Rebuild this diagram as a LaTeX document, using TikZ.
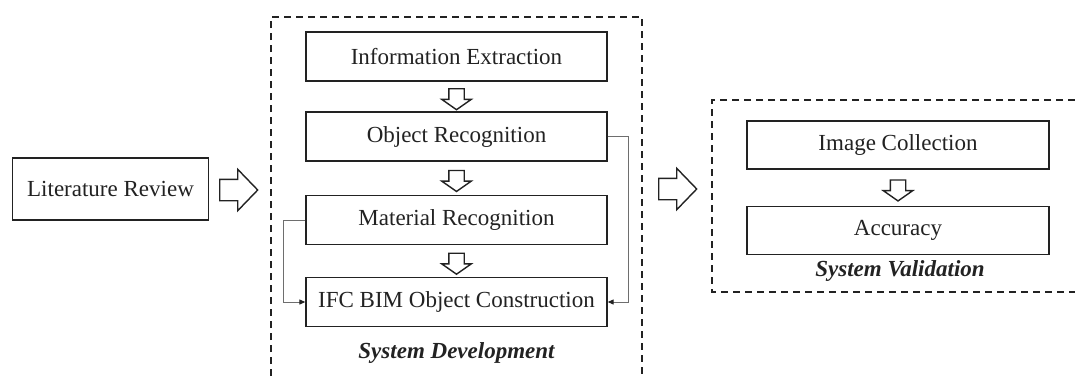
\documentclass[tikz,border=0pt]{standalone}
\usepackage{fontspec}
\setmainfont{Liberation Serif}
\usetikzlibrary{arrows.meta,shapes.arrows,positioning,calc}
\definecolor{ink}{HTML}{222222}
\definecolor{wire}{HTML}{6E6E6E}
\newcommand{\DevX}{456.5}
\newcommand{\ValX}{898}
\newcommand{\FrameDevL}{271}
\newcommand{\FrameDevR}{642}
\newcommand{\FrameDevT}{17}
\newcommand{\FrameValL}{712}
\newcommand{\FrameValT}{100}
\newcommand{\FrameValB}{292}

\begin{document}
\begin{tikzpicture}[
    x=1pt, y=-1pt,
    font=\fontsize{23}{27}\selectfont, ink,
    stage/.style={draw=ink, line width=1.3pt, fill=white, minimum width=301pt, minimum height=49pt, inner sep=0pt},
    frame/.style={draw=ink, line width=1.8pt, dash pattern=on 7pt off 5pt},
    bigarrow/.style={single arrow, draw=ink, line width=1.4pt, fill=white, minimum height=38pt, inner xsep=0pt, inner ysep=10pt, single arrow head extend=10pt, single arrow tip angle=92, anchor=tail},
    smallarrow/.style={single arrow, draw=ink, line width=1.4pt, fill=white, rotate=-90, minimum height=21pt, inner xsep=0pt, inner ysep=7pt, single arrow head extend=7pt, single arrow tip angle=110},
    link/.style={draw=wire, line width=1pt, -{Triangle[length=6pt,width=5pt,color=ink]}},
    caption/.style={font=\fontsize{23}{27}\selectfont\bfseries\itshape},
  ]
\useasboundingbox (0,0) rectangle (1075,376);

% --- Review ------------------------------------------------------------------
\node[stage, minimum width=196pt, minimum height=62pt] (lit) at (110.5, 189) {Literature Review};
\node[bigarrow] (toDev) at (219, 190) {};

% --- System development: four steps ------------------------------------------
\draw[frame] (\FrameDevL, 376) -- (\FrameDevL, \FrameDevT) -- (\FrameDevR, \FrameDevT) -- (\FrameDevR, 376);
\foreach \name/\y/\text in {info/56.5/{Information Extraction},
                            obj/136.5/{Object Recognition},
                            mat/220/{Material Recognition},
                            ifc/302/{IFC BIM Object Construction}} {
  \node[stage] (\name) at (\DevX, \y) {\text};
}
\foreach \a/\b in {info/obj, obj/mat, mat/ifc} {
  \node[smallarrow] (\a-\b) at ($(\a.south)!0.5!(\b.north)$) {};
}
\draw[link] (mat.west) -- ++(-22,0) |- (ifc.west);
\draw[link] (obj.east) -- ++(21,0) |- (ifc.east);
\node[caption] (devlabel) at (\DevX, 353) {System Development};

\node[bigarrow] (toVal) at (658, 189) {};

% --- System validation -------------------------------------------------------
\draw[frame] (1075, \FrameValT) -- (\FrameValL, \FrameValT) -- (\FrameValL, \FrameValB) -- (1075, \FrameValB);
\node[stage, minimum width=302pt, minimum height=48pt] (img) at (\ValX, 145) {Image Collection};
\node[stage, minimum width=302pt, minimum height=48pt] (acc) at (\ValX, 230.5) {Accuracy};
\node[smallarrow] (img-acc) at ($(img.south)!0.5!(acc.north)$) {};
\node[caption] (vallabel) at (900, 271) {System Validation};

\end{tikzpicture}
\end{document}
